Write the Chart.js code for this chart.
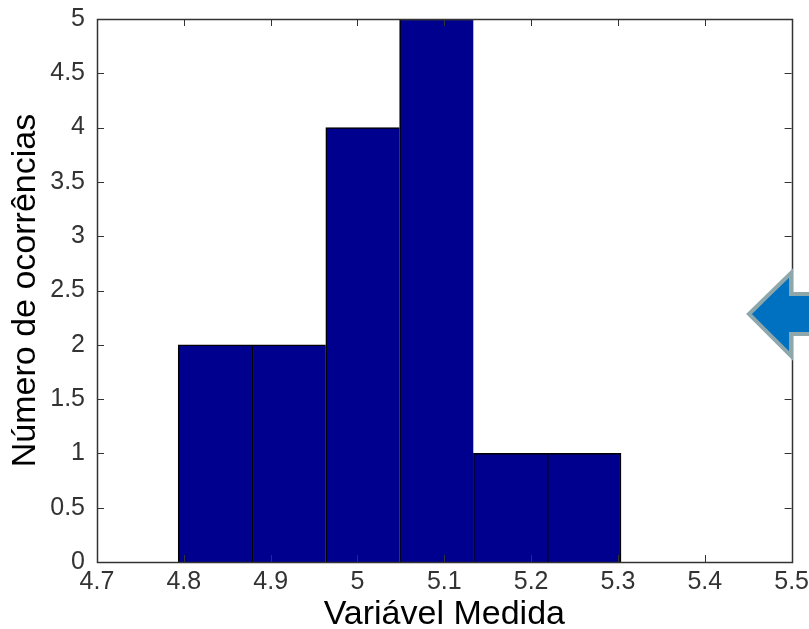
<!DOCTYPE html>
<html>
<head>
<meta charset="utf-8">
<script src="https://cdn.jsdelivr.net/npm/chart.js@4.4.1/dist/chart.umd.min.js"></script>
<style>
  html, body { margin: 0; padding: 0; background: #fff; }
  #wrap { position: relative; width: 809px; height: 629px; }
  #arrow { position: absolute; left: 0; top: 0; pointer-events: none; }
</style>
</head>
<body>
<div id="wrap">
  <canvas id="histChart" width="809" height="629"></canvas>
  <svg id="arrow" width="809" height="629">
    <polygon points="749,314 791,273 791,294 812,294 812,334 791,334 791,356"
             fill="#0070c0" stroke="#8ea7aa" stroke-width="4" stroke-linejoin="miter"/>
  </svg>
</div>
<script>
// histogram bins (centres) and counts
const binCenters = [4.836, 4.921, 5.006, 5.091, 5.176, 5.261];
const counts = [2, 2, 4, 5, 1, 1];

const xLabel = 'Variável Medida';
const yLabel = 'Número de ocorrências';

const tickFont = { family: "'Liberation Sans', Arial, sans-serif", size: 25 };
const titleFont = { family: "'Liberation Sans', Arial, sans-serif", size: 34, lineHeight: 1 };

// matlab style numbers: 5 not 5.0
const fmt = (v) => String(Math.round(v * 10) / 10);

// box around the axes with inward tick marks
const framePlugin = {
  id: 'frame',
  afterDatasetsDraw(chart) {
    const { ctx, chartArea, scales } = chart;
    const { left, right, top, bottom } = chartArea;
    const x = scales.x, y = scales.y;
    const len = 7;
    ctx.save();
    ctx.strokeStyle = '#333';
    ctx.lineWidth = 1;
    ctx.beginPath();
    x.ticks.forEach((t) => {
      const px = Math.round(x.getPixelForValue(t.value)) + 0.5;
      ctx.moveTo(px, bottom); ctx.lineTo(px, bottom - len);
      ctx.moveTo(px, top); ctx.lineTo(px, top + len);
    });
    y.ticks.forEach((t) => {
      const py = Math.round(y.getPixelForValue(t.value)) + 0.5;
      ctx.moveTo(left, py); ctx.lineTo(left + len, py);
      ctx.moveTo(right, py); ctx.lineTo(right - len, py);
    });
    ctx.stroke();
    ctx.lineWidth = 1.5;
    ctx.strokeRect(Math.round(left) + 0.5, Math.round(top) + 0.5,
      Math.round(right - left), Math.round(bottom - top));
    ctx.restore();
  },
};

const myChart = new Chart(document.getElementById('histChart'), {
  type: 'bar',
  data: {
    datasets: [
      {
        data: binCenters.map((c, i) => ({ x: c, y: counts[i] })),
        backgroundColor: '#00008f',
        borderColor: '#000',
        borderWidth: (c) => ({
          top: 1.5, left: 1.5, bottom: 0,
          right: c.dataIndex === counts.length - 1 ? 1.5 : 0,
        }),
        barPercentage: 1,
        categoryPercentage: 1,
      },
    ],
  },
  options: {
    responsive: false,
    animation: false,
    layout: { padding: { left: 0, right: 17, top: 19, bottom: 0 } },
    plugins: {
      legend: { display: false },
      tooltip: { enabled: false },
    },
    scales: {
      x: {
        type: 'linear',
        min: 4.7,
        max: 5.5,
        offset: false,
        // tick marks are drawn by the frame plugin; tickLength only spaces the labels
        grid: { display: false, drawTicks: true, tickLength: 5 },
        border: { display: false },
        ticks: { stepSize: 0.1, padding: 0, color: '#333', font: tickFont, maxRotation: 0, autoSkip: false, callback: fmt },
        title: { display: true, text: xLabel, color: '#000', font: titleFont, padding: { top: 0, bottom: -2.2 } },
        afterFit: (s) => { s.height = 67; },
      },
      y: {
        min: 0,
        max: 5,
        grid: { display: false, drawTicks: true, tickLength: 12 },
        border: { display: false },
        ticks: { stepSize: 0.5, padding: 0, color: '#333', font: tickFont, autoSkip: false, callback: fmt },
        title: { display: true, text: yLabel, color: '#000', font: titleFont, padding: { top: 8.2, bottom: 0 } },
        afterFit: (s) => { s.width = 97; },
      },
    },
  },
  plugins: [framePlugin],
});
</script>
</body>
</html>
